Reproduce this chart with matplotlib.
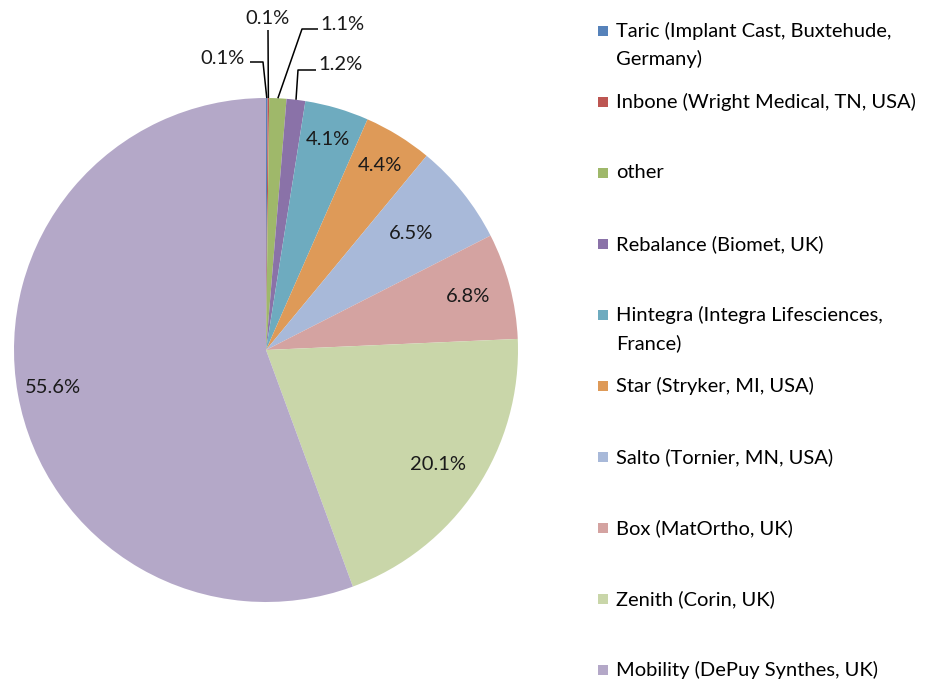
import numpy as np
import matplotlib.pyplot as plt
from matplotlib.patches import Rectangle

plt.rcParams['font.family'] = ['Lato', 'DejaVu Sans']

W, H = 930, 682

labels = ["Taric (Implant Cast, Buxtehude,\nGermany)",
          "Inbone (Wright Medical, TN, USA)",
          "other",
          "Rebalance (Biomet, UK)",
          "Hintegra (Integra Lifesciences,\nFrance)",
          "Star (Stryker, MI, USA)",
          "Salto (Tornier, MN, USA)",
          "Box (MatOrtho, UK)",
          "Zenith (Corin, UK)",
          "Mobility (DePuy Synthes, UK)"]
shares = [0.1, 0.1, 1.1, 1.2, 4.1, 4.4, 6.5, 6.8, 20.1, 55.6]
colors = ["#5682ba", "#bd5652", "#9fb86a", "#8a72a8", "#6eabbf", "#de9a58",
          "#a8b9d9", "#d4a3a1", "#c9d6a9", "#b4a8c8"]

fs = 14.5

fig = plt.figure(figsize=(9.3, 6.82), dpi=100)
ax = fig.add_axes([0, 0, 1, 1])

cx, cy, r = 266, H - 350, 252
wedges, _ = ax.pie(shares, colors=colors, center=(cx, cy), radius=r,
                   startangle=90, counterclock=False,
                   wedgeprops=dict(linewidth=0))
ax.set_xlim(0, W)
ax.set_ylim(0, H)
ax.axis('off')

# labels inside the bigger slices (distance as fraction of radius)
inner_dist = {4: 0.87, 5: 0.86, 6: 0.74, 7: 0.83, 8: 0.82, 9: 0.86}
for i, d in inner_dist.items():
    w = wedges[i]
    a = np.deg2rad((w.theta1 + w.theta2) / 2)
    ax.text(cx + d * r * np.cos(a), cy + d * r * np.sin(a), f"{shares[i]:.1f}%",
            ha='center', va='center', fontsize=fs, color='#1a1a1a')

# small slices: label outside with leader line (image pixel coords)
outer = {0: ((222, 58), [(250, 62), (263, 62)]),
         1: ((267, 18), [(268, 30)]),
         2: ((342, 25), [(318, 29), (302, 29)]),
         3: ((340, 65), [(316, 70), (298, 70)])}
for i, (lab, pts) in outer.items():
    w = wedges[i]
    a = np.deg2rad((w.theta1 + w.theta2) / 2)
    ex, ey = cx + r * np.cos(a), cy + r * np.sin(a)
    xs = [p[0] for p in pts] + [ex]
    ys = [H - p[1] for p in pts] + [ey]
    ax.plot(xs, ys, color='black', lw=1.1, solid_capstyle='butt')
    ax.text(lab[0], H - lab[1], f"{shares[i]:.1f}%", ha='center', va='center',
            fontsize=fs, color='#1a1a1a')

# legend
for i, lab in enumerate(labels):
    y = 31 + i * 71
    ax.add_patch(Rectangle((598, H - y - 5), 10, 10, color=colors[i], lw=0))
    for k, line in enumerate(lab.split("\n")):
        ax.text(616, H - y - k * 28, line, ha='left', va='center',
                fontsize=fs, color='black')

fig.savefig("out.png", dpi=100)
